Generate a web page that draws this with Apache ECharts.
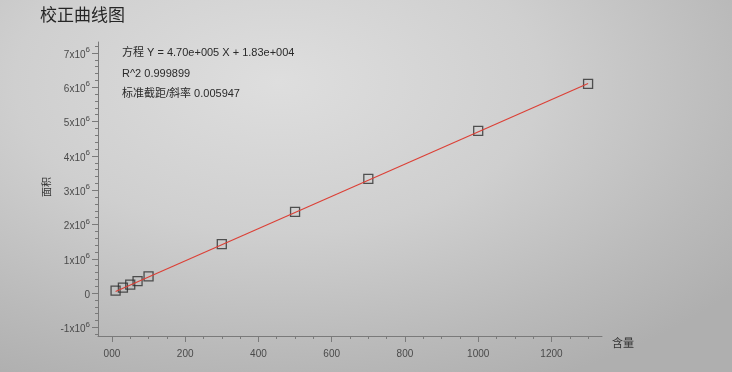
<!DOCTYPE html>
<html>
<head>
<meta charset="utf-8">
<script src="https://cdn.jsdelivr.net/npm/echarts@6/dist/echarts.min.js"></script>
<style>
html,body{margin:0;padding:0;}
body{width:732px;height:372px;background:radial-gradient(ellipse 80% 90% at 38% 22%, #dedede 0%, #cfcfcf 45%, #bababa 80%, #afafaf 100%);}
#c{width:732px;height:372px;}
</style>
</head>
<body>
<div id="c"></div>
<script>
// data
var contents = [10, 30, 50, 70, 100, 300, 500, 700, 1000, 1300];
var areas = [0.07e6, 0.16e6, 0.25e6, 0.35e6, 0.49e6, 1.43e6, 2.37e6, 3.33e6, 4.73e6, 6.10e6];
var fitX = [10, 1300];
var fitY = [0.05e6, 6.11e6];
var xTicks = [0, 200, 400, 600, 800, 1000, 1200];
var xMinorTicks = [];
for (var i = 0; i <= 1300; i += 50) xMinorTicks.push(i);
var yTicks = [-1e6, 0, 1e6, 2e6, 3e6, 4e6, 5e6, 6e6, 7e6];
var yMinorTicks = [];
for (var j = -12; j <= 73; j += 2) yMinorTicks.push(j * 1e5);
var titleText = '校正曲线图';
var infoLines = ['方程 Y = 4.70e+005 X + 1.83e+004', 'R^2 0.999899', '标准截距/斜率 0.005947'];
var xName = '含量';
var yName = '面积';

var FONT = '"Liberation Sans","Noto Sans CJK SC",sans-serif';
var AX = '#7a7a7a';
var chart = echarts.init(document.getElementById('c'), null, {renderer: 'canvas'});
var grid = {left: 98, right: 130, top: 42, bottom: 36};
var xBase = {type: 'value', min: -38, max: 1338, splitLine: {show: false}, gridIndex: 0, position: 'bottom'};
var yBase = {type: 'value', min: -1.25e6, max: 7.32e6, splitLine: {show: false}, gridIndex: 0, position: 'left'};
chart.setOption({
  animation: false,
  backgroundColor: 'transparent',
  grid: grid,
  xAxis: [
    Object.assign({}, xBase, {
      axisLine: {show: true, onZero: false, lineStyle: {color: AX, width: 1}},
      axisTick: {show: true, customValues: xTicks, length: 6, lineStyle: {color: AX}},
      axisLabel: {show: true, customValues: xTicks, margin: 13, color: '#4a4a4a', fontSize: 10, fontFamily: FONT,
        formatter: function (v) { return v === 0 ? '000' : String(v); }}
    }),
    Object.assign({}, xBase, {
      axisLine: {show: false, onZero: false},
      axisTick: {show: true, customValues: xMinorTicks, length: 3, lineStyle: {color: AX}},
      axisLabel: {show: false}
    })
  ],
  yAxis: [
    Object.assign({}, yBase, {
      axisLine: {show: true, onZero: false, lineStyle: {color: AX, width: 1}},
      axisTick: {show: true, customValues: yTicks, length: 6, lineStyle: {color: AX}},
      axisLabel: {show: true, customValues: yTicks, margin: 8, color: '#4a4a4a', fontFamily: FONT,
        formatter: function (v) {
          if (v === 0) return '{a|0}';
          return '{a|' + Math.round(v / 1e6) + 'x10}{b|6}';
        },
        rich: {
          a: {fontSize: 10, color: '#4a4a4a', fontFamily: FONT, lineHeight: 14, verticalAlign: 'bottom'},
          b: {fontSize: 8, color: '#4a4a4a', fontFamily: FONT, lineHeight: 14, verticalAlign: 'top', padding: [0, 0, 5, 0]}
        }
      }
    }),
    Object.assign({}, yBase, {
      axisLine: {show: false, onZero: false},
      axisTick: {show: true, customValues: yMinorTicks, length: 3, lineStyle: {color: AX}},
      axisLabel: {show: false}
    })
  ],
  series: [
    {
      type: 'line', xAxisIndex: 0, yAxisIndex: 0,
      data: fitX.map(function (x, k) { return [x, fitY[k]]; }),
      showSymbol: false, symbol: 'none',
      lineStyle: {color: '#dc3f35', width: 1.1}
    },
    {
      type: 'scatter', xAxisIndex: 0, yAxisIndex: 0,
      data: contents.map(function (x, k) { return [x, areas[k]]; }),
      symbol: 'rect', symbolSize: 9,
      itemStyle: {color: 'rgba(0,0,0,0)', borderColor: '#2e2e2e', borderWidth: 1.3}
    }
  ],
  graphic: [
    {type: 'text', left: 40, top: 8, style: {text: titleText, fontSize: 17, fontFamily: FONT, fill: '#262626'}},
    {type: 'text', left: 122, top: 47, style: {text: infoLines[0], fontSize: 11, fontFamily: FONT, fill: '#2a2a2a'}},
    {type: 'text', left: 122, top: 68, style: {text: infoLines[1], fontSize: 11, fontFamily: FONT, fill: '#2a2a2a'}},
    {type: 'text', left: 122, top: 88, style: {text: infoLines[2], fontSize: 11, fontFamily: FONT, fill: '#2a2a2a'}},
    {type: 'text', x: 47, y: 187, rotation: Math.PI / 2, style: {text: yName, fontSize: 10, fontFamily: FONT, fill: '#333', align: 'center', verticalAlign: 'middle'}},
    {type: 'text', x: 623, y: 344, style: {text: xName, fontSize: 11, fontFamily: FONT, fill: '#333', align: 'center', verticalAlign: 'middle'}}
  ]
});
</script>
</body>
</html>
